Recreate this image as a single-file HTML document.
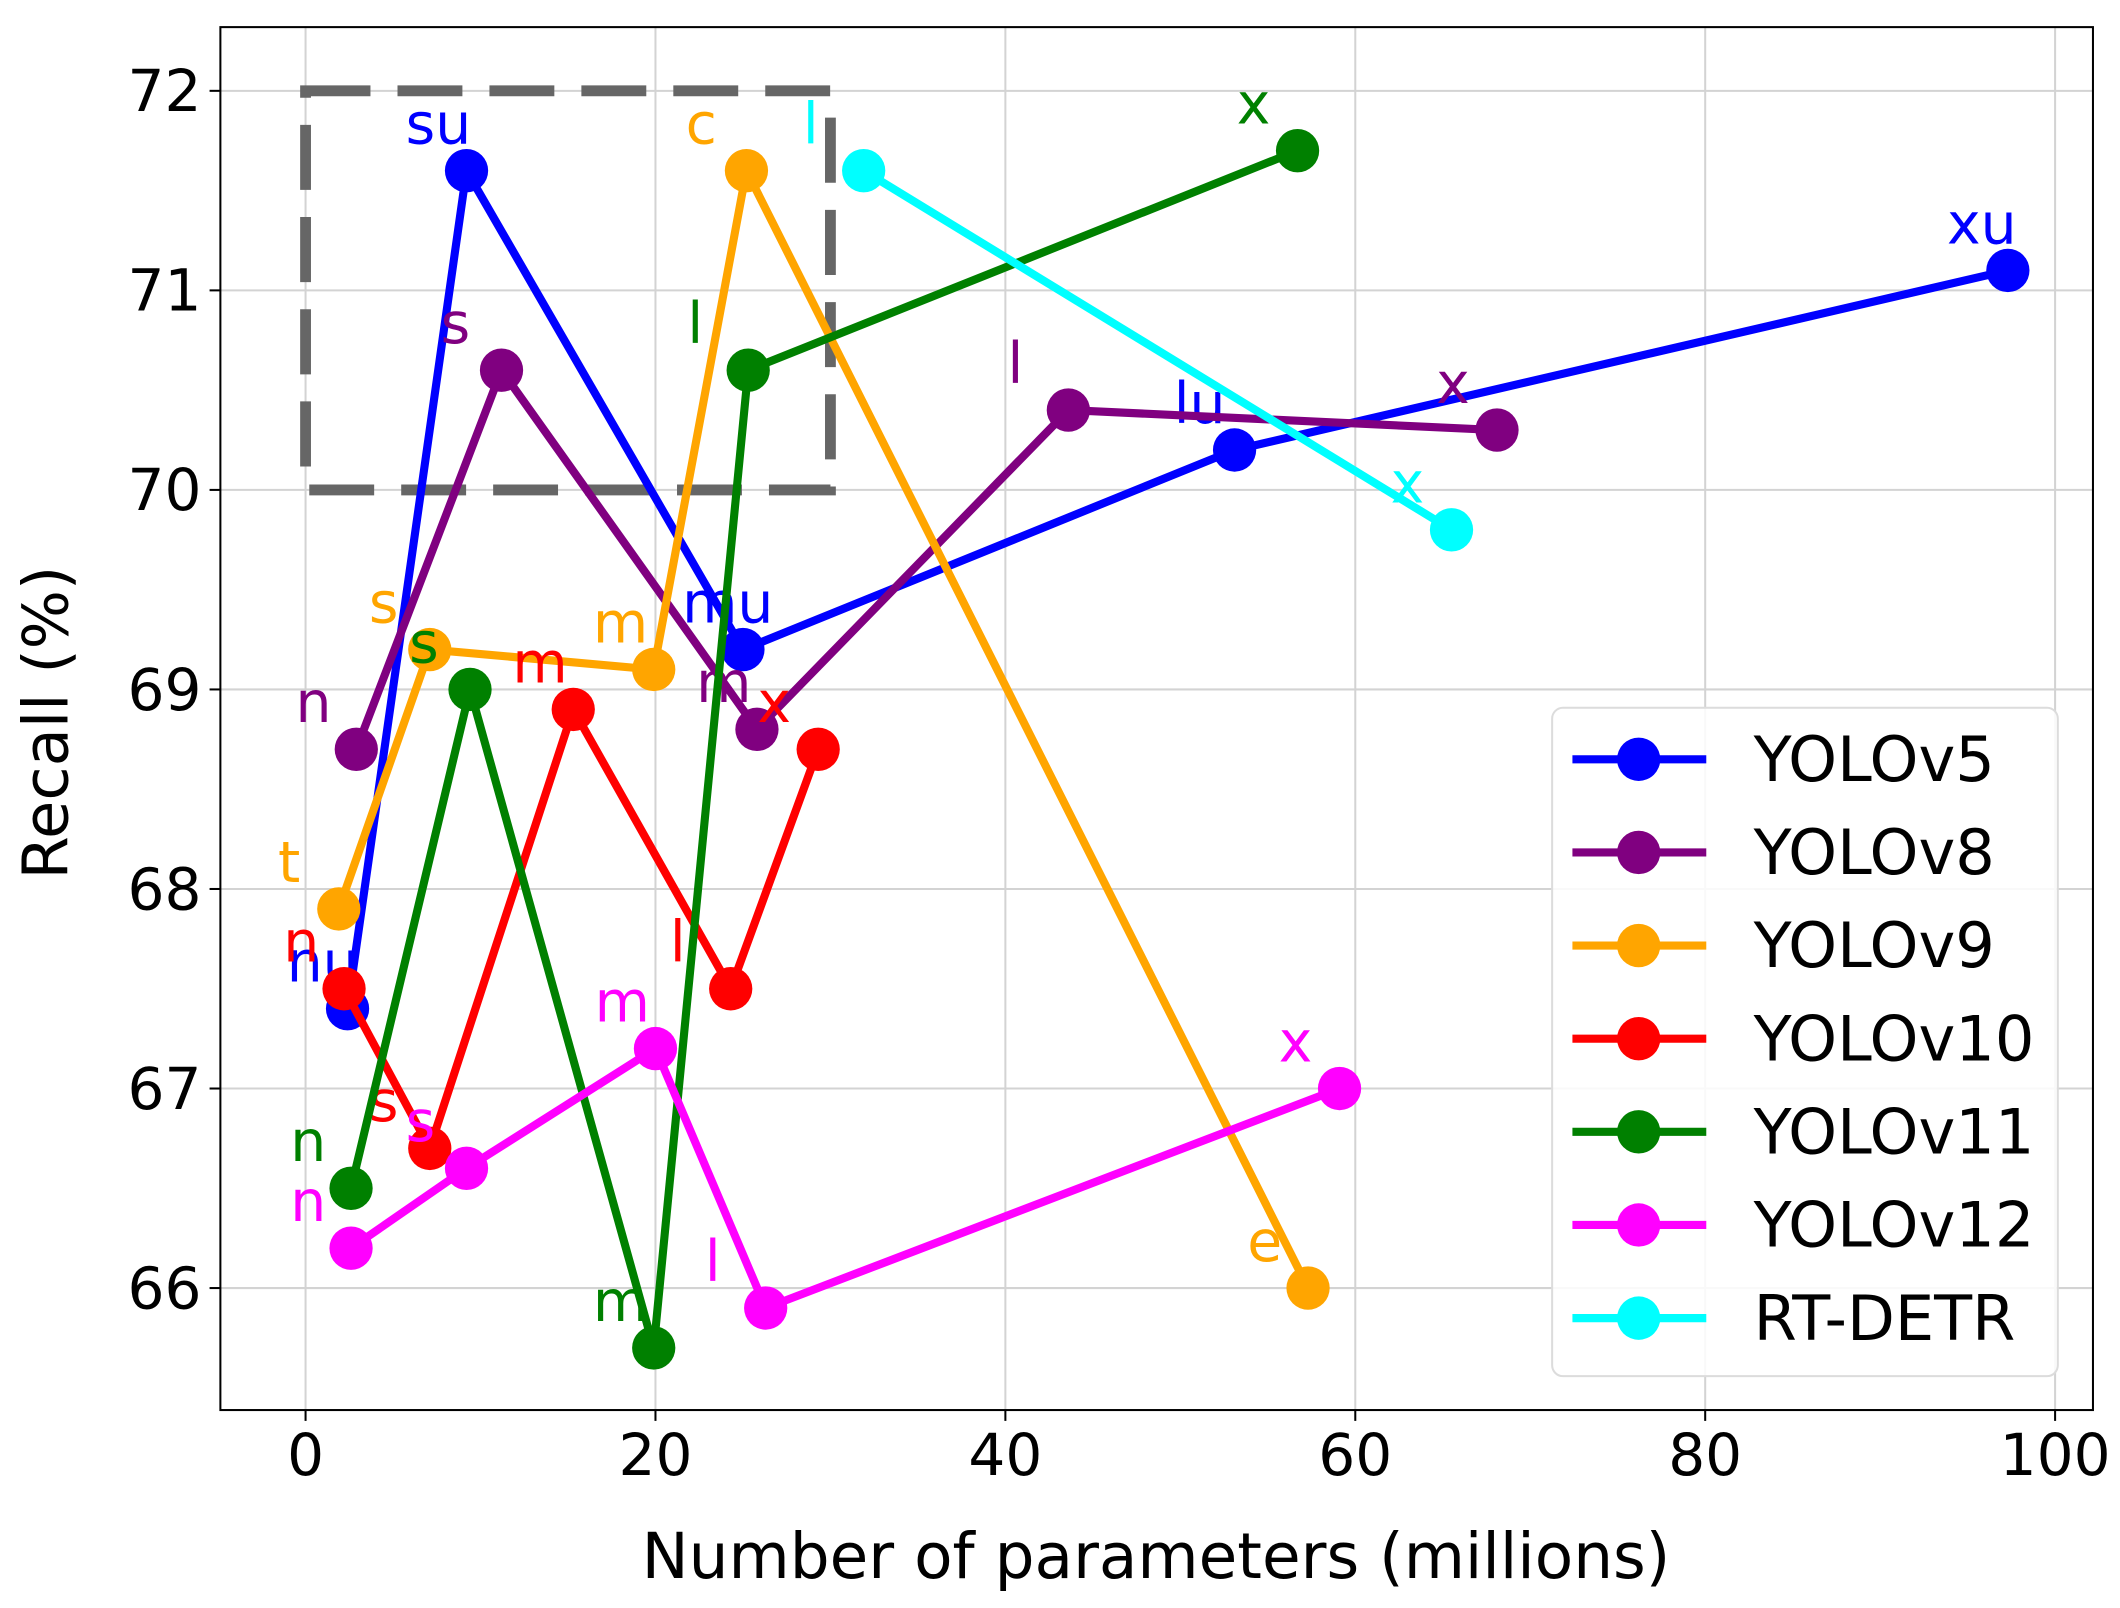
<!DOCTYPE html>
<html><head><meta charset="utf-8"><style>
html,body{margin:0;padding:0;background:#fff}
svg{display:block}
text{font-family:"DejaVu Sans","Liberation Sans",sans-serif}
</style></head><body>
<svg id="chart" width="2120" height="1608" viewBox="0 0 1568 1186" preserveAspectRatio="none" xmlns="http://www.w3.org/2000/svg"></svg>
<script>
const xTicks=[0,20,40,60,80,100];
const yTicks=[66,67,68,69,70,71,72];
const seriesNames=["YOLOv5","YOLOv8","YOLOv9","YOLOv10","YOLOv11","YOLOv12","RT-DETR"];
const seriesColors=["#0000ff","#800080","#ffa500","#ff0000","#008000","#ff00ff","#00ffff"];
const v5X=[2.4,9.2,25.0,53.1,97.3], v5Y=[67.4,71.6,69.2,70.2,71.1], v5L=["nu","su","mu","lu","xu"];
const v8X=[2.9,11.2,25.8,43.6,68.1], v8Y=[68.7,70.6,68.8,70.4,70.3], v8L=["n","s","m","l","x"];
const v9X=[1.9,7.1,19.9,25.2,57.3], v9Y=[67.9,69.2,69.1,71.6,66.0], v9L=["t","s","m","c","e"];
const v10X=[2.2,7.1,15.3,24.3,29.3], v10Y=[67.5,66.7,68.9,67.5,68.7], v10L=["n","s","m","l","x"];
const v11X=[2.6,9.4,19.9,25.3,56.7], v11Y=[66.5,69.0,65.7,70.6,71.7], v11L=["n","s","m","l","x"];
const v12X=[2.6,9.2,20.0,26.3,59.1], v12Y=[66.2,66.6,67.2,65.9,67.0], v12L=["n","s","m","l","x"];
const rtX=[31.9,65.5], rtY=[71.6,69.8], rtL=["l","x"];
const boxX=[0,30], boxY=[70,72];

const NS="http://www.w3.org/2000/svg";
const svg=document.getElementById("chart");
const L=163,R=1548,T=20,B=1040;
const sx=v=>226+v*12.94;
const sy=v=>67+(72-v)*147.17;
function el(tag,attrs,parent){const e=document.createElementNS(NS,tag);for(const k in attrs)e.setAttribute(k,attrs[k]);(parent||svg).appendChild(e);return e;}

xTicks.forEach(t=>{
  const g=el("line",{x1:sx(t),x2:sx(t),y1:T,y2:B,stroke:"#d3d3d3","stroke-width":1.5});
  
  
  const tk=el("line",{x1:sx(t),x2:sx(t),y1:B,y2:B+8,stroke:"#000","stroke-width":1.5});
  
  
  const tx=el("text",{x:sx(t),y:1088,"font-size":43,"text-anchor":"middle",fill:"#000"});
  tx.textContent=t;
  
  
});
yTicks.forEach(t=>{
  const g=el("line",{x1:L,x2:R,y1:sy(t),y2:sy(t),stroke:"#d3d3d3","stroke-width":1.5});
  
  
  const tk=el("line",{x1:L-8,x2:L,y1:sy(t),y2:sy(t),stroke:"#000","stroke-width":1.5});
  
  
  const tx=el("text",{x:L-14,y:sy(t)+15,"font-size":43,"text-anchor":"end",fill:"#000"});
  tx.textContent=t;
  
  
});

const hb=el("rect",{x:sx(boxX[0]),y:sy(boxY[1]),width:sx(boxX[1])-sx(boxX[0]),height:sy(boxY[0])-sy(boxY[1]),fill:"none",stroke:"#666","stroke-width":8,"stroke-dasharray":"48 20"});



const allX=[v5X,v8X,v9X,v10X,v11X,v12X,rtX];
const allY=[v5Y,v8Y,v9Y,v10Y,v11Y,v12Y,rtY];
const allL=[v5L,v8L,v9L,v10L,v11L,v12L,rtL];
allX.forEach((xs,si)=>{
  const c=seriesColors[si];
  const g=el("g",{});
  
  
  const pl=el("polyline",{points:xs.map((x,i)=>sx(x)+","+sy(allY[si][i])).join(" "),fill:"none",stroke:c,"stroke-width":6,"stroke-linejoin":"round"},g);
  
  
  xs.forEach((x,i)=>{
    const m=el("circle",{cx:sx(x),cy:sy(allY[si][i]),r:16,fill:c},g);
    
    
  });
  xs.forEach((x,i)=>{
    const t=el("text",{x:sx(x)-45,y:sy(allY[si][i])-20,"font-size":42,fill:c},g);
    t.textContent=allL[si][i];
    
    
  });
});

const fr=el("rect",{x:L,y:T,width:R-L,height:B-T,fill:"none",stroke:"#000","stroke-width":1.5});



const lg=el("g",{});


const lb=el("rect",{x:1148,y:522,width:374,height:493,rx:8,fill:"#fff","fill-opacity":0.85,stroke:"#dcdcdc","stroke-width":1.5},lg);


seriesNames.forEach((n,i)=>{
  const y=560+i*68.7;
  const e=el("g",{},lg);
  
  
  el("line",{x1:1163,x2:1262,y1:y,y2:y,stroke:seriesColors[i],"stroke-width":6},e);
  el("circle",{cx:1212,cy:y,r:16,fill:seriesColors[i]},e);
  const t=el("text",{x:1297,y:y+16,"font-size":46,fill:"#000"},e);
  t.textContent=n;
});

const xt=el("text",{x:855,y:1164,"font-size":46.5,"text-anchor":"middle",fill:"#000"});
xt.textContent="Number of parameters (millions)";


const yt=el("text",{x:0,y:0,"font-size":46,"text-anchor":"middle",fill:"#000",transform:"translate(50,533) rotate(-90)"});
yt.textContent="Recall (%)";


</script>
</body></html>
